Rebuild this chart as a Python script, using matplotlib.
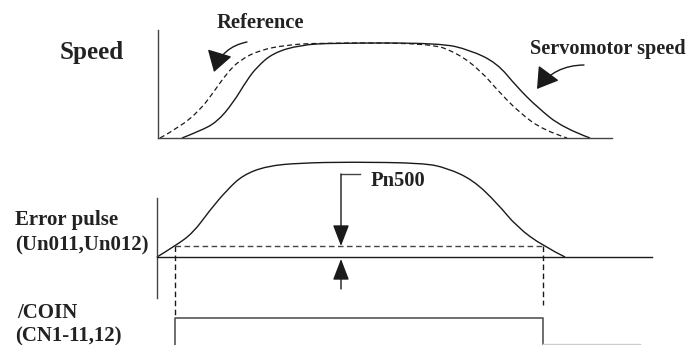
import matplotlib.pyplot as plt
import numpy as np
from matplotlib.path import Path
from matplotlib.patches import PathPatch, FancyArrowPatch

# curve points (pixel coordinates, y downward)
ref_x = [160, 180, 200, 213, 227, 240, 260, 287, 317, 430, 457, 480, 500, 520, 543, 567]
ref_y = [138, 127, 110, 93, 73, 60, 50, 45, 43, 43, 53, 70, 93, 113, 130, 138]

motor_x = [182, 200, 217, 233, 247, 257, 273, 300, 333, 440, 470, 497, 517, 537, 563, 590]
motor_y = [138, 131, 122, 103, 80, 67, 53, 45, 43, 43, 50, 63, 87, 107, 128, 138]

err_x = [157, 175, 193, 210, 227, 243, 267, 300, 350, 423, 447, 473, 497, 517, 543, 565]
err_y = [257, 246, 233, 210, 190, 175, 166, 163, 162, 163, 168, 180, 203, 227, 246, 257]

pn500_level = 246
coin_on = 175
coin_off = 543

INK = '#1a1a1a'
AX = '#444444'


def smooth_patch(xs, ys, **kw):
    # quadratic bezier through midpoints of the read points
    pts = list(zip(xs, ys))
    verts = [pts[0]]
    codes = [Path.MOVETO]
    for i in range(1, len(pts) - 1):
        mid = ((pts[i][0] + pts[i + 1][0]) / 2, (pts[i][1] + pts[i + 1][1]) / 2)
        if i == len(pts) - 2:
            mid = pts[-1]
        verts += [pts[i], mid]
        codes += [Path.CURVE3, Path.CURVE3]
    return PathPatch(Path(verts, codes), fill=False, **kw)


fig = plt.figure(figsize=(6.87, 3.45), dpi=100)
ax = fig.add_axes([0, 0, 1, 1])
ax.set_xlim(0, 687)
ax.set_ylim(345, 0)
ax.axis('off')

font = dict(family='Liberation Serif', weight='bold', color='#222222')

# speed panel
ax.plot([158, 158], [30, 138], color=AX, lw=1.0)
ax.plot([158, 612], [138, 138], color=AX, lw=1.0)
ax.add_patch(smooth_patch(ref_x, ref_y, color=INK, lw=0.9, ls=(0, (4, 2.5))))
ax.add_patch(smooth_patch(motor_x, motor_y, color=INK, lw=1.0))

ax.text(60, 59, 'Speed', fontsize=18, **font)
ax.text(217, 28, 'Reference', fontsize=14.8, **font)
ax.text(530, 54, 'Servomotor speed', fontsize=14.6, **font)

ax.add_patch(FancyArrowPatch((247, 42), (214, 72), connectionstyle='arc3,rad=0.3',
                             arrowstyle='-|>,head_length=8,head_width=5', color=INK, lw=1.0,
                             shrinkA=0, shrinkB=0, mutation_scale=1.6))
ax.add_patch(FancyArrowPatch((584, 65), (537, 89), connectionstyle='arc3,rad=0.25',
                             arrowstyle='-|>,head_length=8,head_width=5', color=INK, lw=1.0,
                             shrinkA=0, shrinkB=0, mutation_scale=1.6))

# error pulse panel
ax.plot([157, 157], [198, 298], color=AX, lw=1.0)
ax.plot([157, 652], [257, 257], color=INK, lw=1.0)
ax.add_patch(smooth_patch(err_x, err_y, color=INK, lw=1.0))
ax.plot([coin_on, coin_off], [pn500_level, pn500_level], color=AX, lw=1.0, ls=(0, (4, 2.5)))
ax.plot([coin_on, coin_on], [pn500_level, 318], color=INK, lw=1.0, ls=(0, (4, 2.5)))
ax.plot([coin_off, coin_off], [pn500_level, 305], color=INK, lw=1.0, ls=(0, (4, 2.5)))

ax.text(15, 225, 'Error pulse', fontsize=15, **font)
ax.text(15, 250, '(Un011,Un012)', fontsize=15, **font)

# Pn500 marker
ax.plot([341, 360], [174, 174], color=AX, lw=1.0)
ax.annotate('', xy=(341, 246), xytext=(341, 174),
            arrowprops=dict(arrowstyle='-|>,head_length=1.3,head_width=0.5', color=INK, lw=1.0,
                            shrinkA=0, shrinkB=0, mutation_scale=10))
ax.annotate('', xy=(341, 259), xytext=(341, 289),
            arrowprops=dict(arrowstyle='-|>,head_length=1.3,head_width=0.5', color=INK, lw=1.0,
                            shrinkA=0, shrinkB=0, mutation_scale=10))
ax.text(371, 186, 'Pn500', fontsize=14.8, **font)

# /COIN signal
ax.plot([coin_on, coin_on, coin_off, coin_off], [346, 318, 318, 344], color='#555555', lw=1.2)
ax.plot([coin_off, 640], [344, 344], color='#cccccc', lw=1.0)
ax.text(17, 318, '/COIN', fontsize=15, **font)
ax.text(15, 341, '(CN1-11,12)', fontsize=15, **font)

fig.savefig('out.png', dpi=100)
